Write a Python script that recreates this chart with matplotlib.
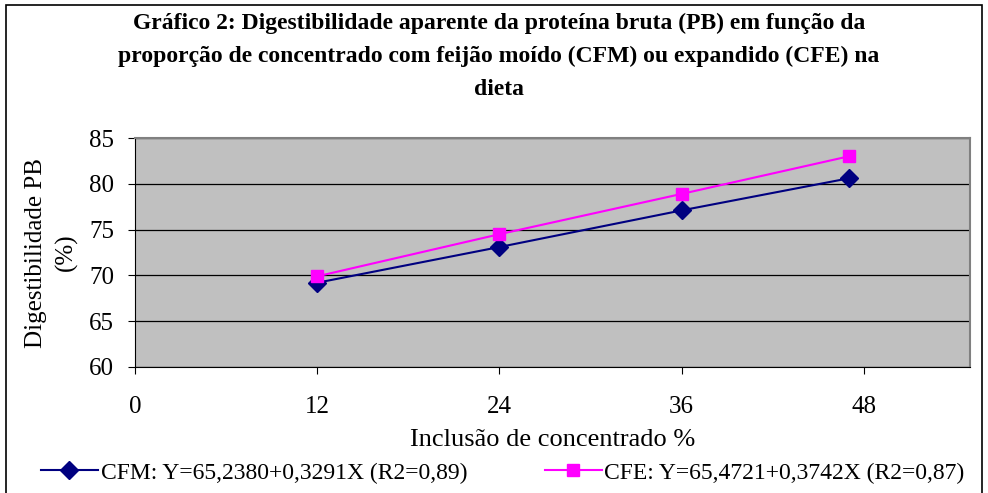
import numpy as np
import matplotlib
matplotlib.use('Agg')
import matplotlib.pyplot as plt
from matplotlib.patches import Rectangle

plt.rcParams.update({'font.family': 'Liberation Serif'})

# data
inclusao = [12, 24, 36, 47]
cfm = [69.2, 73.1, 77.1, 80.6]
cfe = [69.9, 74.5, 78.9, 83.0]
xticks = [0, 12, 24, 36, 48]
yticks = [60, 65, 70, 75, 80, 85]
lab_cfm = 'CFM: Y=65,2380+0,3291X (R2=0,89)'
lab_cfe = 'CFE: Y=65,4721+0,3742X (R2=0,87)'
titulo = ('Gráfico 2: Digestibilidade aparente da proteína bruta (PB) em função da\n'
          'proporção de concentrado com feijão moído (CFM) ou expandido (CFE) na\n'
          'dieta')

NAVY, MAGENTA, GRAY = '#000080', '#FF00FF', '#C0C0C0'

fig = plt.figure(figsize=(9.88, 4.93), dpi=100)
fig.patches.append(Rectangle((0.006, -0.01), 0.988, 1.0, transform=fig.transFigure,
                             fill=False, ec='black', lw=1.2))

ax = fig.add_axes([0.1366, 0.2556, 0.8454, 0.4644])
ax.set_facecolor(GRAY)
ax.plot(inclusao, cfm, color=NAVY, lw=1.5, marker='D', ms=9, label=lab_cfm)
ax.plot(inclusao, cfe, color=MAGENTA, lw=1.5, marker='s', ms=9, label=lab_cfe)

ax.set_xlim(0, 55)
ax.set_ylim(60, 85)
ax.set_xticks(xticks)
ax.set_yticks(yticks)
ax.yaxis.grid(True, color='black', lw=0.9)
ax.set_axisbelow(True)
ax.tick_params(labelsize=18, direction='out', length=5, color='black')
ax.tick_params(axis='x', pad=16)
ax.tick_params(axis='y', pad=10)
for s in ['top', 'right']:
    ax.spines[s].set_color('#808080')
    ax.spines[s].set_linewidth(1.5)
for s in ['left', 'bottom']:
    ax.spines[s].set_color('black')

ax.set_xlabel('Inclusão de concentrado %', fontsize=19, labelpad=8)
ax.set_ylabel('Digestibilidade PB\n(%)', fontsize=18, labelpad=8, linespacing=1.45)

fig.text(0.505, 0.975, titulo, ha='center', va='top', fontsize=17, fontweight='bold',
         linespacing=1.75)

fig.legend(loc='lower left', bbox_to_anchor=(0.032, 0.0), ncol=2, frameon=False,
           fontsize=17, handlelength=2.4, handletextpad=0.12, columnspacing=3.3,
           borderaxespad=0)

plt.savefig('out.png', dpi=100)
plt.close()
